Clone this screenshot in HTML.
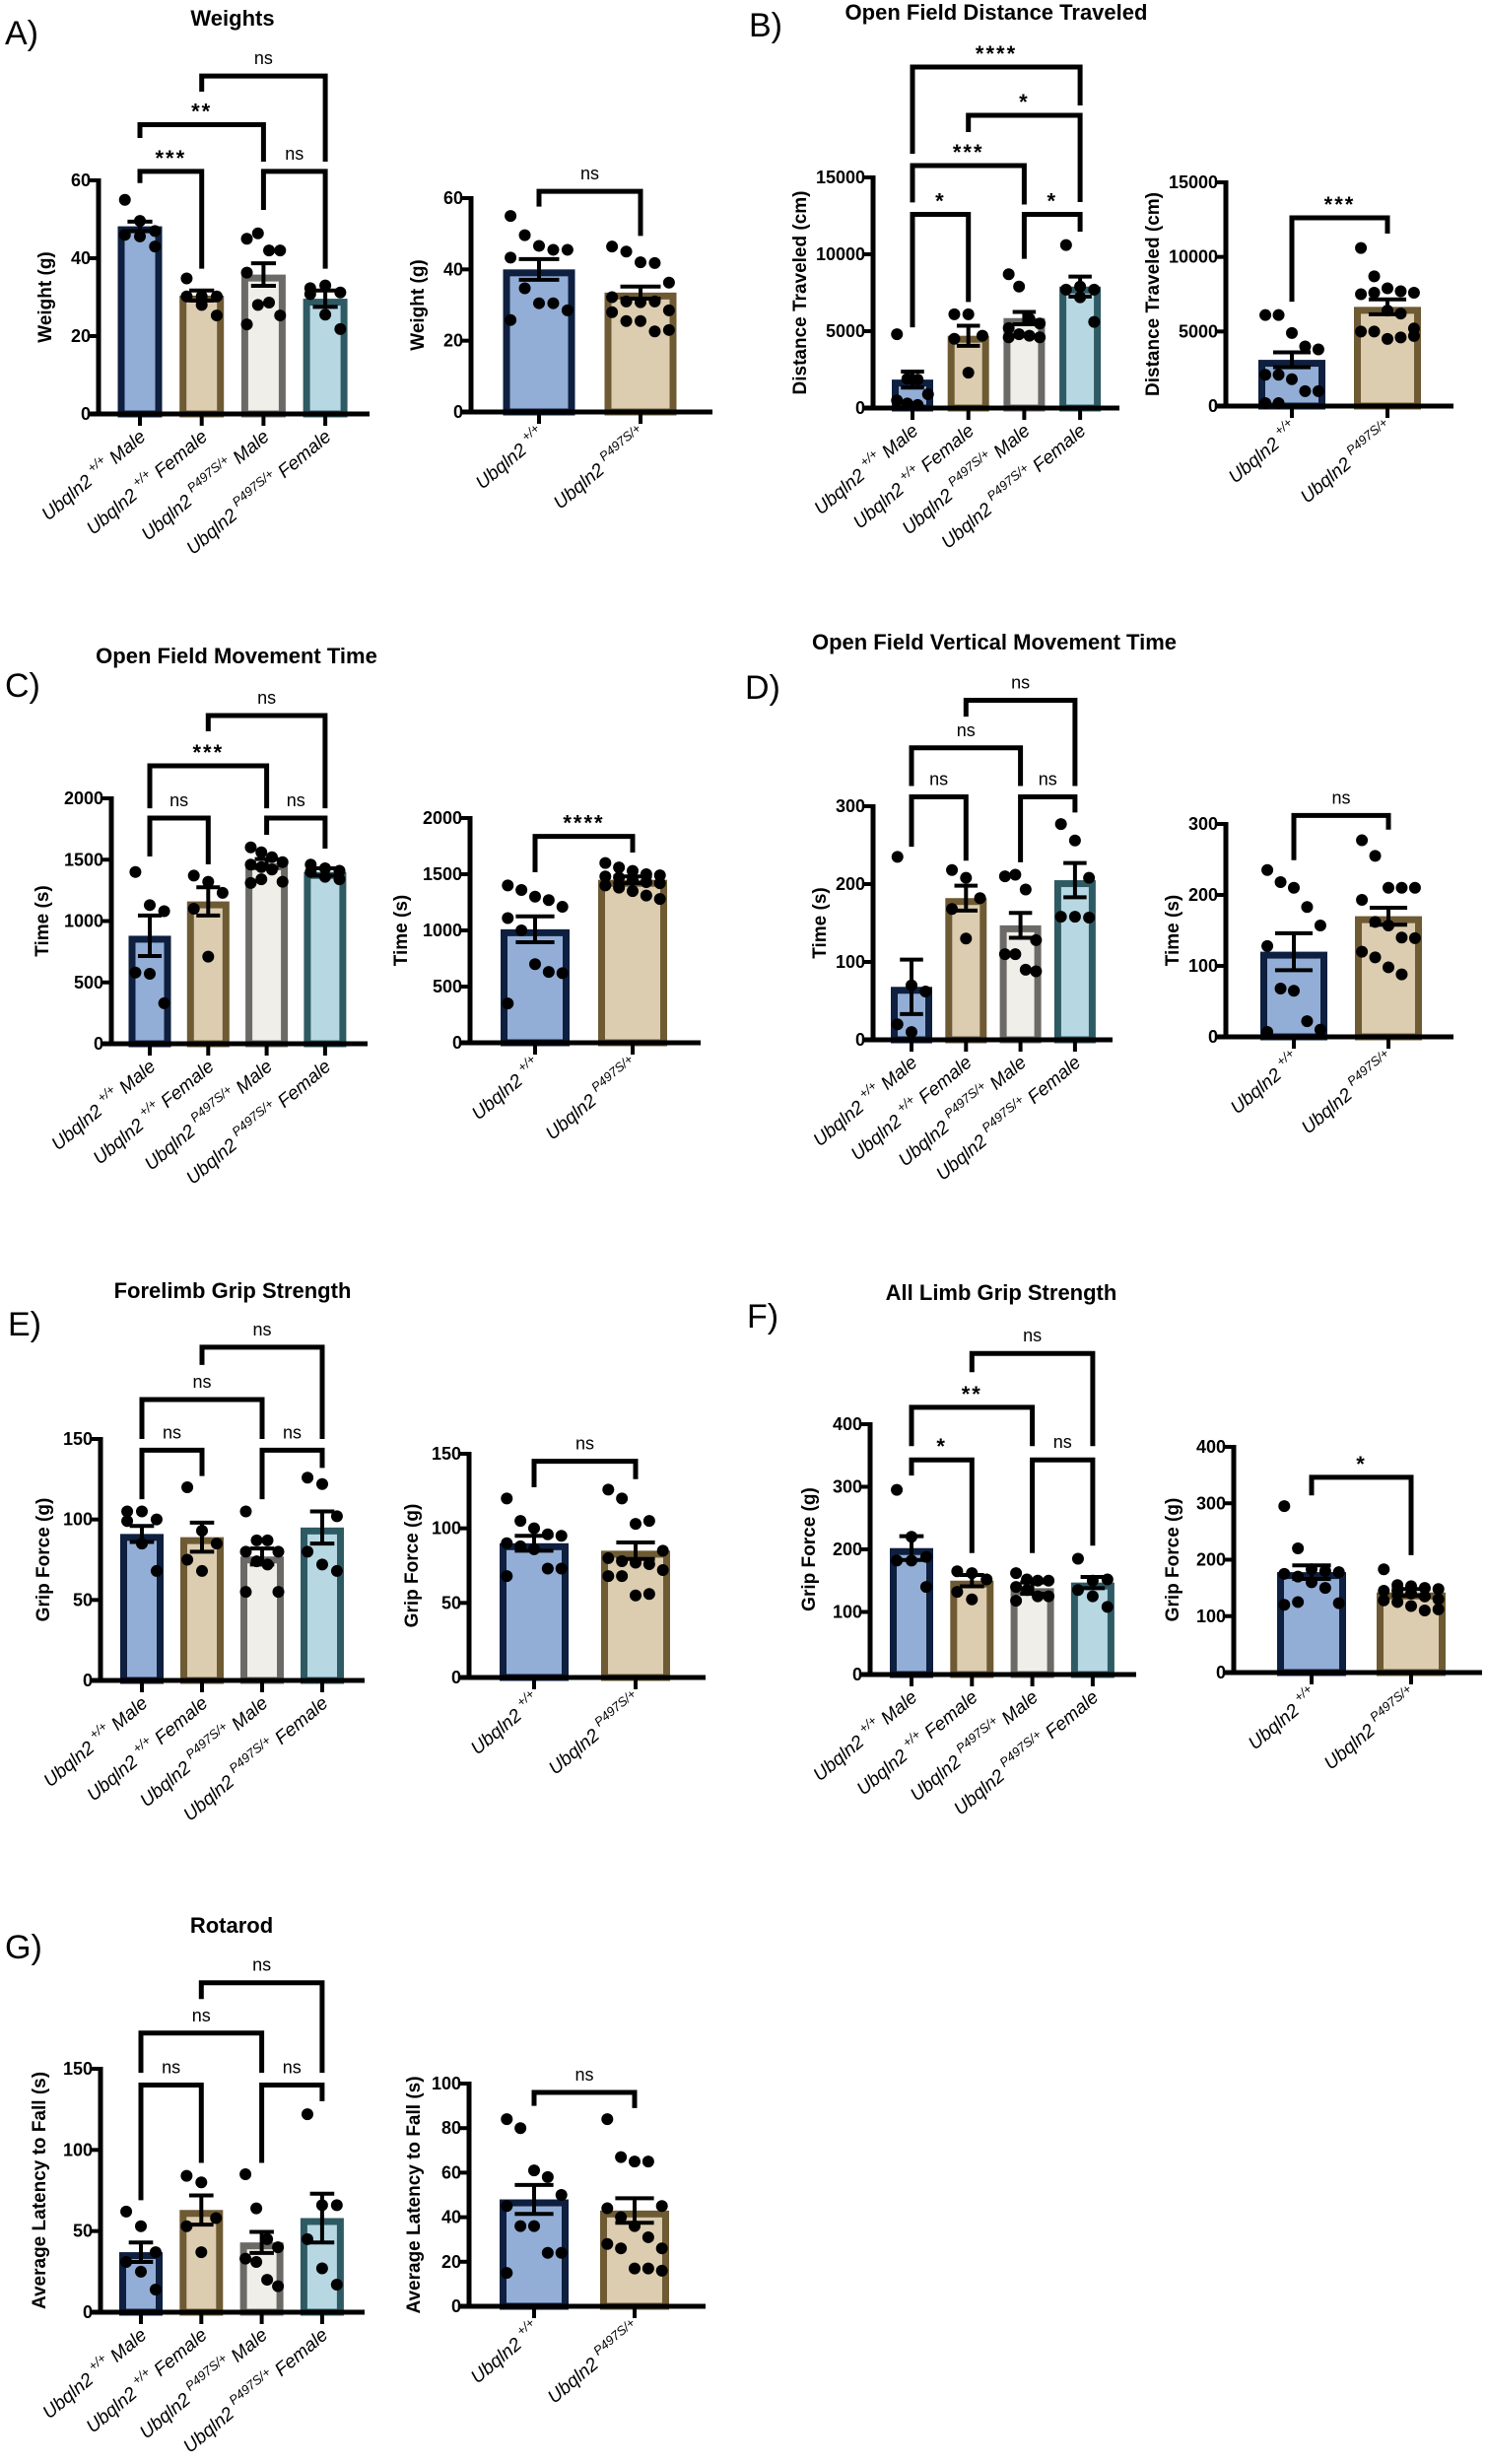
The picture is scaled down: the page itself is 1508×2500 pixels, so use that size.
<!DOCTYPE html>
<html><head><meta charset="utf-8"><style>
html,body{margin:0;padding:0;background:#fff;}
svg{display:block;font-family:"Liberation Sans",Arial,sans-serif;}
</style></head><body>
<svg id="fig" width="1508" height="2500" viewBox="0 0 1508 2500" xmlns="http://www.w3.org/2000/svg"></svg>
<script>
// ===== Data =====
// A) Weights
const weightsGroupMeans = [48.2, 30.4, 35.8, 29.6];
const weightsGroupSems = [1.2, 1.3, 2.9, 2.1];
const weightsGroupPoints = [[55,49.6,47,46,45.6,43],[34.8,30.2,30.2,30.2,28,25.3],[45,46.4,42,42,36.3,28,28.6,25.3,23],[32.3,33,31.2,30.8,25.5,21.8]];
const weightsGenoMeans = [40, 33.5];
const weightsGenoSems = [2.9, 1.7];
const weightsGenoPoints = [[55,49.6,46.6,45.5,45.5,43.3,34.7,30.5,30.5,28.5,25.8],[46.4,45,42,41.8,36.3,32.2,31,30.8,31,28.5,28,25.5,25.5,22.6,23]];
// B) Distance
const distGroupMeans = [1850, 4700, 5850, 7900];
const distGroupSems = [520, 650, 400, 650];
const distGroupPoints = [[4800,1900,1850,900,500,300,200],[6100,6100,4700,4500,2300],[8700,7900,5800,5500,5200,4800,4700,4600,4600],[10600,7900,7700,7700,7200,5600]];
const distGenoMeans = [3100, 6650];
const distGenoSems = [500, 500];
const distGenoPoints = [[6100,6100,4900,4000,3800,2100,2100,1800,1000,1000,200,200],[10600,8700,7900,7700,7600,7500,7600,6400,6200,5200,5000,5000,4500,4600,4700]];
// C) Movement time
const moveGroupMeans = [880, 1160, 1470, 1400];
const moveGroupSems = [165, 115, 35, 30];
const moveGroupPoints = [[1400,1130,1080,580,570,330],[1370,1320,1230,1100,710],[1600,1560,1520,1480,1460,1440,1420,1320,1310,1340],[1460,1430,1410,1400,1360,1340]];
const moveGenoMeans = [1010, 1450];
const moveGenoSems = [115, 30];
const moveGenoPoints = [[1400,1360,1300,1270,1210,1110,1000,700,630,620,350],[1600,1560,1530,1500,1490,1480,1470,1450,1430,1420,1400,1380,1350,1310,1280]];
// D) Vertical movement time
const vertGroupMeans = [68, 182, 147, 205];
const vertGroupSems = [35, 16, 16, 22];
const vertGroupPoints = [[235,70,62,20,10],[218,208,182,168,130],[210,212,193,128,110,110,90,88],[277,256,208,158,158,157]];
const vertGenoMeans = [120, 170];
const vertGenoSems = [26, 12];
const vertGenoPoints = [[235,218,210,183,157,128,68,65,22,10,7],[277,255,210,210,210,193,162,157,140,139,120,112,98,88]];
// E) Forelimb grip
const foreGroupMeans = [91, 89, 77, 95];
const foreGroupSems = [5, 9, 5, 10];
const foreGroupPoints = [[105,105,100,99,85,68],[120,93,85,75,68],[105,87,87,80,80,74,72,55,55],[126,122,102,80,72,68]];
const foreGenoMeans = [90, 85];
const foreGenoSems = [5, 5.5];
const foreGenoPoints = [[120,105,100,96,95,90,88,86,73,73,68],[126,120,103,105,85,80,78,77,76,72,68,68,55,56]];
// F) All limb grip
const allGroupMeans = [202, 150, 138, 147];
const allGroupSems = [19, 9, 9, 9];
const allGroupPoints = [[295,220,188,182,182,140],[165,162,152,132,120],[162,152,150,150,140,135,125,125,118],[185,150,152,135,125,108]];
const allGenoMeans = [178, 142];
const allGenoSems = [12, 6];
const allGenoPoints = [[295,220,183,180,178,175,170,160,150,123,120,125],[183,155,153,150,148,145,145,140,135,130,128,125,118,110,112]];
// G) Rotarod
const rotaGroupMeans = [37, 63, 43, 58];
const rotaGroupSems = [6, 9, 6.5, 15];
const rotaGroupPoints = [[62,53,37,31,25,14],[84,80,58,53,37],[85,64,45,40,33,31,20,16],[122,66,66,45,27,17]];
const rotaGenoMeans = [48, 43];
const rotaGenoSems = [6.5, 5.5];
const rotaGenoPoints = [[84,80,61,58,50,45,36,36,24,24,15],[84,67,65,65,45,44,40,36,31,26,28,26,17,17,16]];

// brackets: [groupA, groupB, topValue, dropA, dropB, label]
const weightsGroupBrackets = [[1,3,86.8,82.8,64.8,"ns"],[0,2,74.3,70.9,64.8,"**"],[0,1,62.3,59.3,37.3,"***"],[2,3,62.3,52.4,37.3,"ns"]];
const weightsGenoBrackets = [[0,1,61.9,57.6,49.4,"ns"]];
const distGroupBrackets = [[0,3,22180,16540,19680,"****"],[1,3,19040,17950,13400,"*"],[0,2,15770,13370,13240,"***"],[0,1,12600,5250,6900,"*"],[2,3,12600,9700,11470,"*"]];
const distGenoBrackets = [[0,1,12620,7000,11560,"***"]];
const moveGroupBrackets = [[1,3,2675,2546,1919,"ns"],[0,2,2265,1919,1919,"***"],[0,1,1839,1526,1462,"ns"],[2,3,1839,1703,1590,"ns"]];
const moveGenoBrackets = [[0,1,1837,1518,1693,"****"]];
const vertGroupBrackets = [[1,3,436,415,326,"ns"],[0,2,375,326,326,"ns"],[0,1,312,248,230,"ns"],[2,3,312,228,292,"ns"]];
const vertGenoBrackets = [[0,1,312,249,292,"ns"]];
const foreGroupBrackets = [[1,3,207,196,150,"ns"],[0,2,174.5,150,150,"ns"],[0,1,143,112.6,127,"ns"],[2,3,143,112.6,132,"ns"]];
const foreGenoBrackets = [[0,1,145,127.5,133,"ns"]];
const allGroupBrackets = [[1,3,513,483,365,"ns"],[0,2,427,365,365,"**"],[0,1,343,318,194,"*"],[2,3,343,194,206,"ns"]];
const allGenoBrackets = [[0,1,346,314,208,"*"]];
const rotaGroupBrackets = [[1,3,203,193,147.5,"ns"],[0,2,172,147.5,147.5,"ns"],[0,1,140,69,92,"ns"],[2,3,140,92,130,"ns"]];
const rotaGenoBrackets = [[0,1,96,90,89,"ns"]];

const groupLabels = [["Ubqln2 ","+/+"," Male"],["Ubqln2 ","+/+"," Female"],["Ubqln2 ","P497S/+"," Male"],["Ubqln2 ","P497S/+"," Female"]];
const genoLabels = [["Ubqln2 ","+/+",""],["Ubqln2 ","P497S/+",""]];

// ===== Drawing =====
const NS = "http://www.w3.org/2000/svg";
const svg = document.getElementById("fig");
const FILLS = ["#93aed6","#dccdb1","#efeee9","#b7d8e3"];
const STROKES = ["#0e1f3f","#6e5a33","#6b6a66","#2e5a64"];
function mk(tag, attrs, parent){
  const e = document.createElementNS(NS, tag);
  for (const k in attrs) e.setAttribute(k, attrs[k]);
  (parent||svg).appendChild(e);
  return e;
}
function jitter(i, n, w){
  const cols = n > 10 ? 5 : (n > 6 ? 4 : 3);
  const c = i % cols;
  return (c - (cols-1)/2) * w / (cols - 0.2);
}
function drawChart(name, L, means, sems, points, brackets, labels, ylabel, ticks){
  const g = mk("g", {});
  
  
  const y = v => L.y0 - v * (L.y0 - L.yTop) / L.vTop;
  const cx = i => L.c0 + i * L.step;
  const bw = L.bw;
  means.forEach((m, i) => {
    const k = L.colors[i];
    const b = mk("rect", {x: cx(i)-bw/2+3.5, y: y(m)+3.5, width: bw-7, height: Math.max(0, L.y0 - y(m) - 3.5), fill: FILLS[k], stroke: STROKES[k], "stroke-width": 7}, g);
    
    
  });
  points.forEach((arr, i) => {
    arr.forEach((v, j) => {
      const d = mk("circle", {cx: cx(i) + jitter(j, arr.length, bw*0.95), cy: y(v), r: 6, fill: "#000"}, g);
      
      
    });
  });
  means.forEach((m, i) => {
    const cap = bw * 0.28;
    const e = mk("path", {d: `M${cx(i)} ${y(m+sems[i])}V${y(m-sems[i])}M${cx(i)-cap} ${y(m+sems[i])}H${cx(i)+cap}M${cx(i)-cap} ${y(m-sems[i])}H${cx(i)+cap}`, stroke: "#000", "stroke-width": 4, fill: "none"}, g);
    
    
  });
  const ax = mk("path", {d: `M${L.ax} ${L.yTop-2}V${L.y0}M${L.ax-10} ${L.y0}H${L.xEnd}`, stroke: "#000", "stroke-width": 5, fill: "none"}, g);
  
  
  ticks.forEach(t => {
    mk("line", {x1: L.ax-9, x2: L.ax, y1: y(t), y2: y(t), stroke: "#000", "stroke-width": 4}, g);
    const tl = mk("text", {x: L.ax-8, y: y(t)+6, "text-anchor": "end", "font-size": 18, "font-weight": "bold"}, g);
    tl.textContent = t;
    
    
  });
  means.forEach((m, i) => {
    mk("line", {x1: cx(i), x2: cx(i), y1: L.y0, y2: L.y0+12, stroke: "#000", "stroke-width": 4}, g);
    const tx = cx(i)+7, ty = L.y0+25;
    const t = mk("text", {x: tx, y: ty, "text-anchor": "end", "font-size": 19, "font-style": "italic", transform: `rotate(-40 ${tx} ${ty})`}, g);
    
    
    const [a, sup, b] = labels[i];
    const s1 = mk("tspan", {}, t); s1.textContent = a;
    const s2 = mk("tspan", {dy: -9, "font-size": 13}, t); s2.textContent = sup;
    if (b) { const s3 = mk("tspan", {dy: 9}, t); s3.textContent = b; }
  });
  const yl = mk("text", {x: 0, y: 0, "text-anchor": "middle", "font-size": 19, "font-weight": "bold", transform: `translate(${L.ax-L.ylOff} ${(L.y0+L.yTop)/2}) rotate(-90)`}, g);
  yl.textContent = ylabel;
  
  
  brackets.forEach(bk => {
    const [a, b, top, da, db, lab] = bk;
    const p = mk("path", {d: `M${cx(a)} ${y(da)}V${y(top)}H${cx(b)}V${y(db)}`, stroke: "#000", "stroke-width": 5, fill: "none"}, g);
    
    
    const star = lab !== "ns";
    const t = mk("text", {x: (cx(a)+cx(b))/2, y: y(top) - (star ? 6 : 12), "text-anchor": "middle", "font-size": star ? 22 : 18, "font-weight": star ? "bold" : "normal", "letter-spacing": star ? 2 : 0}, g);
    t.textContent = lab;
    
    
  });
}
function panel(letter, lx, ly, title, tx, ty){
  const l = mk("text", {x: lx, y: ly, "font-size": 34}, svg);
  l.textContent = letter;
  
  
  const t = mk("text", {x: tx, y: ty, "text-anchor": "middle", "font-size": 22, "font-weight": "bold"}, svg);
  t.textContent = title;
  
  
}
const C4 = [0,1,2,3], C2 = [0,1];

panel("A)", 5, 45, "Weights", 236, 26);
drawChart("weights-by-group", {ax:100,y0:420,yTop:183,vTop:60,c0:142,step:62.7,bw:45,xEnd:375,colors:C4,ylOff:48}, weightsGroupMeans, weightsGroupSems, weightsGroupPoints, weightsGroupBrackets, groupLabels, "Weight (g)", [0,20,40,60]);
drawChart("weights-by-genotype", {ax:478,y0:418,yTop:201,vTop:60,c0:547,step:103,bw:73,xEnd:723,colors:C2,ylOff:48}, weightsGenoMeans, weightsGenoSems, weightsGenoPoints, weightsGenoBrackets, genoLabels, "Weight (g)", [0,20,40,60]);

panel("B)", 760, 37, "Open Field Distance Traveled", 1011, 20);
drawChart("distance-by-group", {ax:886,y0:414,yTop:180,vTop:15000,c0:926,step:56.7,bw:42,xEnd:1136,colors:C4,ylOff:68}, distGroupMeans, distGroupSems, distGroupPoints, distGroupBrackets, groupLabels, "Distance Traveled (cm)", [0,5000,10000,15000]);
drawChart("distance-by-genotype", {ax:1244,y0:412,yTop:185,vTop:15000,c0:1311,step:97,bw:68,xEnd:1475,colors:C2,ylOff:68}, distGenoMeans, distGenoSems, distGenoPoints, distGenoBrackets, genoLabels, "Distance Traveled (cm)", [0,5000,10000,15000]);

panel("C)", 5, 707, "Open Field Movement Time", 240, 673);
drawChart("movement-by-group", {ax:113,y0:1059,yTop:810,vTop:2000,c0:152,step:59.3,bw:43,xEnd:373,colors:C4,ylOff:64}, moveGroupMeans, moveGroupSems, moveGroupPoints, moveGroupBrackets, groupLabels, "Time (s)", [0,500,1000,1500,2000]);
drawChart("movement-by-genotype", {ax:477,y0:1058,yTop:830,vTop:2000,c0:543,step:99,bw:70,xEnd:711,colors:C2,ylOff:64}, moveGenoMeans, moveGenoSems, moveGenoPoints, moveGenoBrackets, genoLabels, "Time (s)", [0,500,1000,1500,2000]);

panel("D)", 756, 709, "Open Field Vertical Movement Time", 1009, 659);
drawChart("vertical-by-group", {ax:886,y0:1055,yTop:818,vTop:300,c0:925,step:55.3,bw:42,xEnd:1129,colors:C4,ylOff:48}, vertGroupMeans, vertGroupSems, vertGroupPoints, vertGroupBrackets, groupLabels, "Time (s)", [0,100,200,300]);
drawChart("vertical-by-genotype", {ax:1244,y0:1052,yTop:836,vTop:300,c0:1313,step:96,bw:68,xEnd:1475,colors:C2,ylOff:48}, vertGenoMeans, vertGenoSems, vertGenoPoints, vertGenoBrackets, genoLabels, "Time (s)", [0,100,200,300]);

panel("E)", 8, 1355, "Forelimb Grip Strength", 236, 1317);
drawChart("forelimb-by-group", {ax:102,y0:1705,yTop:1460,vTop:150,c0:144,step:61,bw:44,xEnd:370,colors:C4,ylOff:52}, foreGroupMeans, foreGroupSems, foreGroupPoints, foreGroupBrackets, groupLabels, "Grip Force (g)", [0,50,100,150]);
drawChart("forelimb-by-genotype", {ax:476,y0:1702,yTop:1475,vTop:150,c0:542,step:103,bw:70,xEnd:716,colors:C2,ylOff:52}, foreGenoMeans, foreGenoSems, foreGenoPoints, foreGenoBrackets, genoLabels, "Grip Force (g)", [0,50,100,150]);

panel("F)", 758, 1347, "All Limb Grip Strength", 1016, 1319);
drawChart("alllimb-by-group", {ax:883,y0:1699,yTop:1445,vTop:400,c0:925,step:61.3,bw:44,xEnd:1153,colors:C4,ylOff:56}, allGroupMeans, allGroupSems, allGroupPoints, allGroupBrackets, groupLabels, "Grip Force (g)", [0,100,200,300,400]);
drawChart("alllimb-by-genotype", {ax:1252,y0:1697,yTop:1468,vTop:400,c0:1331,step:101,bw:70,xEnd:1504,colors:C2,ylOff:56}, allGenoMeans, allGenoSems, allGenoPoints, allGenoBrackets, genoLabels, "Grip Force (g)", [0,100,200,300,400]);

panel("G)", 5, 1987, "Rotarod", 235, 1961);
drawChart("rotarod-by-group", {ax:102,y0:2346,yTop:2099,vTop:150,c0:143,step:61.3,bw:44,xEnd:370,colors:C4,ylOff:56}, rotaGroupMeans, rotaGroupSems, rotaGroupPoints, rotaGroupBrackets, groupLabels, "Average Latency to Fall (s)", [0,50,100,150]);
drawChart("rotarod-by-genotype", {ax:476,y0:2340,yTop:2114,vTop:100,c0:542,step:102,bw:70,xEnd:716,colors:C2,ylOff:50}, rotaGenoMeans, rotaGenoSems, rotaGenoPoints, rotaGenoBrackets, genoLabels, "Average Latency to Fall (s)", [0,20,40,60,80,100]);
</script>
</body></html>
